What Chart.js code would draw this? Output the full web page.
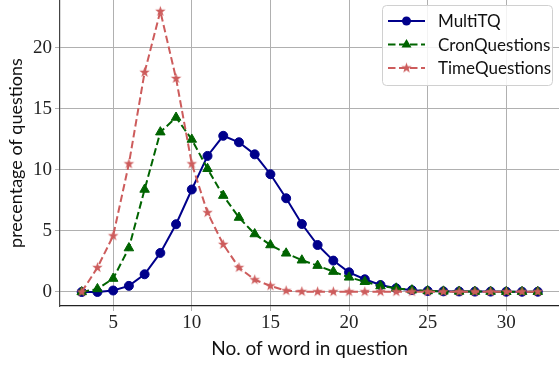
<!DOCTYPE html>
<html>
<head>
<meta charset="utf-8">
<script src="https://cdn.jsdelivr.net/npm/chart.js@4.4.0/dist/chart.umd.min.js"></script>
<style>
  html, body { margin: 0; padding: 0; background: #fff; }
  #wrap { width: 559px; height: 367px; position: relative; }
</style>
</head>
<body>
<div id="wrap"><canvas id="chart"></canvas></div>
<script>
// number of words in the question
const words = [3,4,5,6,7,8,9,10,11,12,13,14,15,16,17,18,19,20,21,22,23,24,25,26,27,28,29,30,31,32];
const multiTQ = [0,0,0.12,0.5,1.45,3.2,5.55,8.4,11.15,12.8,12.27,11.28,9.65,7.68,5.57,3.85,2.57,1.61,1.04,0.57,0.3,0.15,0.08,0.05,0.04,0.03,0.03,0.02,0.02,0.02];
const cronQuestions = [0,0.25,1.1,3.6,8.4,13.1,14.3,12.5,10.1,7.9,6.1,4.75,3.85,3.17,2.6,2.16,1.67,1.2,0.84,0.49,0.3,0.15,0.08,0.05,0.04,0.03,0.03,0.02,0.02,0.02];
const timeQuestions = [0,2.0,4.6,10.5,18.0,23.0,17.5,10.5,6.5,3.9,2.0,1.0,0.5,0.1,0.03,0.02,0.02,0.02,0.02,0.02,0.02,0.02,0.02,0.02,0.02,0.02,0.02,0.02,0.02,0.02];
const xTicks = [5,10,15,20,25,30];
const yTicks = [0,5,10,15,20];
const seriesNames = ['MultiTQ', 'CronQuestions', 'TimeQuestions'];

const BLUE = '#00008b', GREEN = '#006400', RED = '#cd5c5c';
const SANS = 'Lato, "DejaVu Sans", sans-serif';
const SERIF = '"Liberation Serif", "DejaVu Serif", serif';

function starCanvas(r, color) {
  const c = document.createElement('canvas');
  const s = Math.ceil(r * 2 + 2);
  c.width = s; c.height = s;
  const g = c.getContext('2d');
  g.translate(s / 2, s / 2);
  g.beginPath();
  for (let i = 0; i < 10; i++) {
    const rad = i % 2 === 0 ? r : r * 0.4;
    const a = -Math.PI / 2 + i * Math.PI / 5;
    g.lineTo(Math.cos(a) * rad, Math.sin(a) * rad);
  }
  g.closePath();
  g.fillStyle = color;
  g.fill();
  return c;
}
const star = starCanvas(5.5, RED);

const pts = arr => words.map((w, i) => ({x: w, y: arr[i]}));

// no extra room for edge tick labels: the plot runs to the canvas edge
const noPad = s => { s.paddingTop = s.paddingBottom = s.paddingLeft = s.paddingRight = 0; };

// legend drawn inside the plot, top right
const innerLegend = {
  id: 'innerLegend',
  afterDraw(chart) {
    const ctx = chart.ctx;
    const x0 = 382.5, y0 = 5.5, w = 170, h = 80;
    ctx.save();
    ctx.beginPath();
    ctx.roundRect(x0, y0, w, h, 4);
    ctx.fillStyle = 'rgba(255,255,255,0.85)';
    ctx.fill();
    ctx.strokeStyle = '#d0d0d0';
    ctx.lineWidth = 1;
    ctx.stroke();
    const rows = [
      {c: BLUE, dash: [], m: 'circle'},
      {c: GREEN, dash: [7.5, 3.5], m: 'triangle'},
      {c: RED, dash: [7.5, 3.5], m: 'star'}
    ];
    rows.forEach((r, i) => {
      const y = 21 + i * 23.5;
      ctx.beginPath();
      ctx.setLineDash(r.dash);
      ctx.strokeStyle = r.c;
      ctx.lineWidth = 2;
      ctx.moveTo(388, y);
      ctx.lineTo(425, y);
      ctx.stroke();
      ctx.setLineDash([]);
      ctx.fillStyle = r.c;
      if (r.m === 'circle') {
        ctx.beginPath(); ctx.arc(406.5, y, 4.5, 0, Math.PI * 2); ctx.fill();
      } else if (r.m === 'triangle') {
        ctx.beginPath();
        ctx.moveTo(406.5, y - 5.5); ctx.lineTo(411.5, y + 3); ctx.lineTo(401.5, y + 3);
        ctx.closePath(); ctx.fill();
      } else {
        ctx.drawImage(star, 406.5 - star.width / 2, y - star.height / 2);
      }
      ctx.fillStyle = '#111';
      ctx.font = '17px ' + SANS;
      ctx.textBaseline = 'middle';
      ctx.fillText(seriesNames[i], 438, y + 1);
    });
    ctx.restore();
  }
};

new Chart(document.getElementById('chart'), {
  type: 'line',
  data: {
    datasets: [
      {label: seriesNames[0], data: pts(multiTQ), borderColor: BLUE, backgroundColor: BLUE, borderWidth: 2,
       pointStyle: 'circle', pointRadius: 4.5, pointBorderWidth: 1, order: 3},
      {label: seriesNames[1], data: pts(cronQuestions), borderColor: GREEN, backgroundColor: GREEN, borderWidth: 2,
       borderDash: [7.5, 3.5], pointStyle: 'triangle', pointRadius: 5.5, pointBorderWidth: 1, order: 2},
      {label: seriesNames[2], data: pts(timeQuestions), borderColor: RED, backgroundColor: RED, borderWidth: 2,
       borderDash: [7.5, 3.5], pointStyle: star, order: 1}
    ]
  },
  options: {
    responsive: true,
    maintainAspectRatio: false,
    animation: false,
    layout: {padding: 0, autoPadding: false},
    plugins: {legend: {display: false}, tooltip: {enabled: false}},
    scales: {
      x: {
        type: 'linear', min: 1.62, max: 33.35,
        afterBuildTicks: a => { a.ticks = xTicks.map(v => ({value: v})); },
        afterFit: s => { s.height = 61; noPad(s); },
        grid: {color: '#b0b0b0', lineWidth: 1, tickLength: 5},
        border: {color: '#222', width: 1.2},
        ticks: {color: '#222', font: {family: SERIF, size: 19}, padding: 1, maxRotation: 0},
        title: {display: true, text: 'No. of word in question', color: '#111',
                font: {family: SANS, size: 19}, padding: {top: 0, bottom: 7}}
      },
      y: {
        min: -1.15, max: 23.93,
        afterBuildTicks: a => { a.ticks = yTicks.map(v => ({value: v})); },
        afterFit: s => { s.width = 60; noPad(s); },
        grid: {color: '#b0b0b0', lineWidth: 1, tickLength: 5},
        border: {color: '#444', width: 1.2},
        ticks: {color: '#222', font: {family: SERIF, size: 19}, padding: 3},
        title: {display: true, text: 'precentage of questions', color: '#111',
                font: {family: SANS, size: 18}, padding: {top: 5, bottom: 0}}
      }
    }
  },
  plugins: [innerLegend]
});
</script>
</body>
</html>
